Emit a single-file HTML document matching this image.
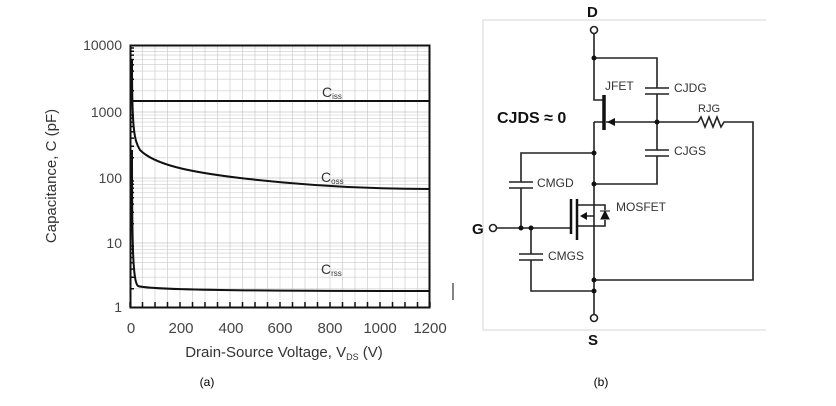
<!DOCTYPE html>
<html><head><meta charset="utf-8"><style>
body{margin:0;background:#fff;width:836px;height:401px;overflow:hidden}
text{font-family:"Liberation Sans",sans-serif}
</style></head><body>
<svg width="836" height="401" viewBox="0 0 836 401" xmlns="http://www.w3.org/2000/svg">
<g id="grid" stroke="#d4d4d4" stroke-width="0.8">
<path d="M142.5 45V307M155 45V307M167.5 45V307M180 45V307M192.5 45V307M205 45V307M217.5 45V307M230 45V307M242.5 45V307M255 45V307M267.5 45V307M280 45V307M292.5 45V307M305 45V307M317.5 45V307M330 45V307M342.5 45V307M355 45V307M367.5 45V307M380 45V307M392.5 45V307M405 45V307M417.5 45V307"/>
</g>
<g stroke="#ccc" stroke-width="0.6" id="h"></g>
<g fill="none" stroke="#111" stroke-width="2">
<rect x="130.5" y="45.5" width="299" height="262"/>
<path d="M130 101H430"/>
<path d="M132 60 C132 130 134 140 140 150 C155 165 190 172 240 178 C300 185 360 189 430 189"/>
<path d="M132 150 C132 250 133 282 138 286 C150 290 250 291 430 291"/>
</g>
<path id="tk" stroke="#111" stroke-width="1.5"/>
<g font-size="14" fill="#444" text-anchor="end">
<text x="122" y="50">10000</text><text x="122" y="117">1000</text><text x="122" y="183">100</text><text x="122" y="248">10</text><text x="122" y="312">1</text>
</g>
<g font-size="15" fill="#444" text-anchor="middle">
<text x="131" y="333">0</text><text x="181" y="333">200</text><text x="231" y="333">400</text><text x="280" y="333">600</text><text x="330" y="333">800</text><text x="380" y="333">1000</text><text x="430" y="333">1200</text>
<text x="284" y="357" font-size="15" fill="#333">Drain-Source Voltage, V<tspan font-size="9" dy="3">DS</tspan><tspan dy="-3"> (V)</tspan></text>
<text transform="translate(56 176) rotate(-90)" font-size="15" fill="#333">Capacitance, C (pF)</text>
</g>
<g font-size="14" fill="#333">
<text x="322" y="97">C<tspan font-size="8" dy="2">iss</tspan></text>
<text x="321" y="182">C<tspan font-size="8" dy="2">oss</tspan></text>
<text x="321" y="274">C<tspan font-size="8" dy="2">rss</tspan></text>
</g>
<path d="M453 283V300" stroke="#333" stroke-width="1.2"/>
<text x="207" y="386" font-size="12" text-anchor="middle">(a)</text>
<text x="601" y="386" font-size="12" text-anchor="middle">(b)</text>

<path d="M766 20H483V330H766" fill="none" stroke="#ddd" stroke-width="1.2"/>
<g fill="none" stroke="#222" stroke-width="1.6">
<circle cx="594" cy="30" r="3.5" fill="#fff"/>
<circle cx="594" cy="318" r="3.5" fill="#fff"/>
<circle cx="493" cy="228" r="3.5" fill="#fff"/>
<path d="M594 34V100H603"/>
<path d="M594 58H657V88M657 94V150M657 156V184H594"/>
<path d="M645 88H669M645 94H669M645 150H669M645 156H669"/>
<path d="M594 122H604M606 122H698"/>
<path d="M698 122l3 -5 4 10 4 -10 4 10 4 -10 4 10 3 -5H753V280H594"/>
<path d="M594 122V205M594 226V314"/>
<path d="M594 153H521V182M521 188V228"/>
<path d="M509 182H533M509 188H533M519 254H543M519 260H543"/>
<path d="M497 228H571"/>
<path d="M531 228V254M531 260V291H594"/>
<path d="M577 205H605V210M605 220V226H577M594 205V226M582 216H594"/>
</g>
<path d="M604 95V130" stroke="#111" stroke-width="3.5"/>
<path d="M571 199V234M577 199V240" stroke="#111" stroke-width="2.5"/>
<path d="M607 122l8 -4v8z" fill="#111"/>
<path d="M580 216l7 -4v8z" fill="#111"/>
<path d="M600 211h10M601 219l4 -8 4 8z" fill="#111" stroke="#111" stroke-width="1"/>
<g fill="#111"><circle cx="594" cy="58" r="2.5"/><circle cx="657" cy="122" r="2.5"/><circle cx="594" cy="153" r="2.5"/><circle cx="594" cy="184" r="2.5"/><circle cx="521" cy="228" r="2.5"/><circle cx="531" cy="228" r="2.5"/><circle cx="594" cy="280" r="2.5"/><circle cx="594" cy="291" r="2.5"/></g>
<g font-size="12" fill="#333">
<text x="605" y="90">JFET</text><text x="674" y="92">CJDG</text><text x="698" y="112" font-size="11">RJG</text>
<text x="674" y="155">CJGS</text><text x="537" y="187">CMGD</text><text x="616" y="211">MOSFET</text><text x="548" y="260">CMGS</text>
</g>
<g font-weight="bold" fill="#111">
<text x="587" y="17" font-size="15">D</text>
<text x="588" y="345" font-size="15">S</text>
<text x="472" y="234" font-size="15">G</text>
<text x="497" y="123" font-size="16">CJDS ≈ 0</text>
</g>
</svg>
<script>
var g=document.getElementById('h'),s='';
var tops=[45,112,178,243];
for(var d=0;d<4;d++){var y1=tops[d]+65.5;for(var k=2;k<10;k++){var y=y1-65.5*Math.log10(k);s+='<path d="M130 '+y.toFixed(1)+'H430"/>';}s+='<path d="M130 '+tops[d]+'H430" stroke="#aaa"/>';}
g.innerHTML=s;
var t='';for(var x=130;x<=430;x+=12.5){t+='M'+x+' 307V302';}
for(var d=0;d<4;d++){var y1=tops[d]+65.5;for(var k=2;k<10;k++){var y=y1-65.5*Math.log10(k);t+='M130 '+y.toFixed(1)+'H134';}}
document.getElementById('tk').setAttribute('d',t);
</script>
</body></html>
